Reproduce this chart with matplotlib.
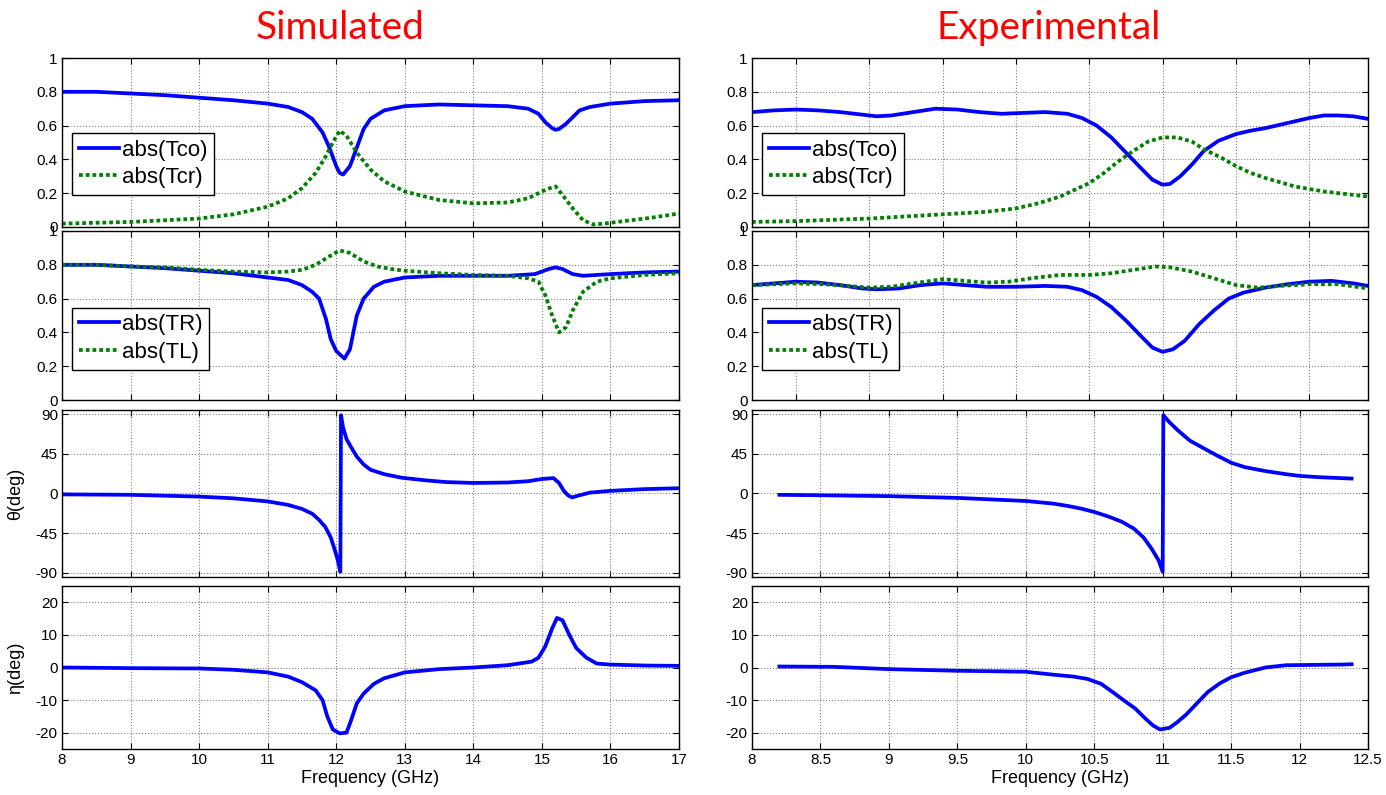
import numpy as np
import matplotlib
matplotlib.use('Agg')
import matplotlib.pyplot as plt
from matplotlib.ticker import FuncFormatter

plt.rcParams['font.family'] = ['Liberation Sans', 'DejaVu Sans']

# ---------------- Simulated data ----------------
sim_f_tco = [8.0, 8.5, 9.0, 9.5, 10.0, 10.5, 11.0, 11.3, 11.5, 11.65, 11.8, 11.9, 12.0, 12.05, 12.1,
             12.2, 12.3, 12.4, 12.5, 12.7, 13.0, 13.5, 14.0, 14.5, 14.8, 14.95, 15.05, 15.15, 15.2,
             15.25, 15.35, 15.45, 15.55, 15.7, 16.0, 16.5, 17.0]
sim_tco = [0.80, 0.80, 0.79, 0.78, 0.765, 0.75, 0.73, 0.71, 0.68, 0.64, 0.56, 0.47, 0.36, 0.32, 0.31,
           0.36, 0.47, 0.58, 0.64, 0.69, 0.715, 0.725, 0.72, 0.715, 0.70, 0.67, 0.62, 0.585, 0.575,
           0.58, 0.61, 0.65, 0.69, 0.71, 0.73, 0.745, 0.75]

sim_f_tcr = [8.0, 8.5, 9.0, 9.5, 10.0, 10.5, 11.0, 11.3, 11.5, 11.7, 11.85, 11.95, 12.05, 12.15, 12.3,
             12.5, 12.7, 13.0, 13.5, 14.0, 14.5, 14.8, 15.0, 15.15, 15.2, 15.3, 15.45, 15.6, 15.75,
             15.9, 16.2, 16.6, 17.0]
sim_tcr = [0.02, 0.025, 0.03, 0.04, 0.05, 0.075, 0.12, 0.17, 0.23, 0.32, 0.42, 0.50, 0.57, 0.54, 0.44,
           0.34, 0.27, 0.21, 0.16, 0.14, 0.145, 0.17, 0.21, 0.235, 0.24, 0.19, 0.11, 0.04, 0.015,
           0.02, 0.035, 0.055, 0.08]

sim_f_tr = [8.0, 8.5, 9.0, 9.5, 10.0, 10.5, 11.0, 11.3, 11.5, 11.65, 11.75, 11.85, 11.92, 12.0, 12.08,
            12.12, 12.2, 12.3, 12.4, 12.55, 12.7, 13.0, 13.5, 14.0, 14.5, 14.9, 15.1, 15.2, 15.3,
            15.45, 15.6, 16.0, 16.5, 17.0]
sim_tr = [0.80, 0.80, 0.79, 0.78, 0.765, 0.75, 0.725, 0.71, 0.68, 0.64, 0.60, 0.48, 0.36, 0.29, 0.26,
          0.245, 0.30, 0.50, 0.60, 0.67, 0.70, 0.725, 0.735, 0.735, 0.735, 0.745, 0.775, 0.785, 0.775,
          0.745, 0.735, 0.745, 0.755, 0.76]

sim_f_tl = [8.0, 8.5, 9.0, 9.5, 10.0, 10.5, 11.0, 11.3, 11.5, 11.7, 11.9, 12.05, 12.2, 12.4, 12.6,
            12.8, 13.0, 13.5, 14.0, 14.5, 14.8, 14.95, 15.05, 15.15, 15.25, 15.35, 15.45, 15.6,
            15.8, 16.0, 16.5, 17.0]
sim_tl = [0.80, 0.80, 0.79, 0.785, 0.77, 0.76, 0.755, 0.76, 0.77, 0.80, 0.85, 0.885, 0.87, 0.82, 0.79,
          0.775, 0.765, 0.75, 0.74, 0.735, 0.72, 0.70, 0.62, 0.50, 0.40, 0.43, 0.53, 0.64,
          0.70, 0.72, 0.74, 0.75]

sim_f_theta = [8.0, 9.0, 10.0, 10.5, 11.0, 11.3, 11.5, 11.65, 11.75, 11.84, 11.92, 11.97, 12.02,
               12.06, 12.07, 12.1, 12.15, 12.2, 12.3, 12.4, 12.5, 12.7, 12.95, 13.3, 13.6, 14.0,
               14.5, 14.8, 15.0, 15.17, 15.25, 15.32, 15.38, 15.44, 15.55, 15.7, 16.0, 16.5, 17.0]
sim_theta = [-1, -1.5, -3.5, -5.5, -9, -13, -17.5, -23, -30, -38, -50, -62, -75,
             -89, 89, 75, 62, 55, 42, 33, 27, 22, 18, 15, 13, 12,
             12.5, 14, 16.5, 17.5, 12, 3, -2, -4.5, -2, 1, 3, 5, 6]

sim_f_eta = [8.0, 9.0, 10.0, 10.5, 11.0, 11.3, 11.5, 11.7, 11.8, 11.87, 11.95, 12.05, 12.15, 12.22,
             12.3, 12.4, 12.55, 12.7, 13.0, 13.5, 14.0, 14.5, 14.85, 14.95, 15.05, 15.15, 15.22,
             15.3, 15.4, 15.5, 15.65, 15.8, 16.0, 16.5, 17.0]
sim_eta = [0, -0.2, -0.3, -0.7, -1.5, -2.8, -4.5, -7, -10, -15, -19, -20.2, -20.0, -16,
           -11, -8, -5, -3.3, -1.5, -0.5, 0, 0.7, 1.8, 3, 6.5, 12, 15.2,
           14.5, 10, 6, 3, 1.2, 0.9, 0.6, 0.5]

# ---------------- Experimental data ----------------
exp_f_tco = [8.2, 8.35, 8.5, 8.65, 8.8, 8.95, 9.05, 9.15, 9.3, 9.45, 9.6, 9.75, 9.9, 10.05, 10.2,
             10.35, 10.45, 10.55, 10.65, 10.75, 10.85, 10.93, 11.0, 11.05, 11.12, 11.2, 11.28,
             11.38, 11.5, 11.6, 11.7, 11.8, 11.9, 12.0, 12.1, 12.2, 12.3, 12.4]
exp_tco = [0.68, 0.69, 0.695, 0.69, 0.68, 0.665, 0.655, 0.66, 0.68, 0.70, 0.695, 0.68, 0.67, 0.675, 0.68,
           0.67, 0.645, 0.60, 0.53, 0.44, 0.35, 0.28, 0.25, 0.255, 0.30, 0.37, 0.45,
           0.51, 0.55, 0.57, 0.585, 0.605, 0.625, 0.645, 0.66, 0.66, 0.655, 0.64]

exp_f_tcr = [8.2, 8.5, 9.0, 9.5, 9.8, 10.0, 10.15, 10.3, 10.4, 10.5, 10.6, 10.7, 10.8, 10.9, 11.0,
             11.1, 11.2, 11.28, 11.4, 11.5, 11.6, 11.7, 11.8, 11.9, 12.0, 12.1, 12.25, 12.4]
exp_tcr = [0.03, 0.035, 0.05, 0.075, 0.09, 0.11, 0.14, 0.18, 0.22, 0.26, 0.32, 0.39, 0.45, 0.505, 0.53,
           0.53, 0.505, 0.46, 0.41, 0.36, 0.32, 0.29, 0.265, 0.24, 0.225, 0.21, 0.195, 0.18]

exp_f_tr = [8.2, 8.35, 8.5, 8.65, 8.8, 8.95, 9.05, 9.2, 9.35, 9.5, 9.65, 9.8, 10.0, 10.2, 10.35,
            10.45, 10.55, 10.65, 10.75, 10.85, 10.93, 11.0, 11.07, 11.15, 11.25, 11.35, 11.45,
            11.55, 11.7, 11.85, 12.0, 12.15, 12.3, 12.4]
exp_tr = [0.68, 0.69, 0.70, 0.695, 0.68, 0.66, 0.655, 0.66, 0.68, 0.69, 0.68, 0.67, 0.67, 0.675, 0.67,
          0.65, 0.61, 0.55, 0.47, 0.38, 0.31, 0.285, 0.30, 0.35, 0.45, 0.53, 0.60,
          0.635, 0.665, 0.685, 0.70, 0.705, 0.69, 0.675]

exp_f_tl = [8.2, 8.5, 8.7, 8.85, 9.0, 9.15, 9.3, 9.5, 9.65, 9.8, 9.95, 10.1, 10.3, 10.5, 10.65, 10.8,
            10.95, 11.05, 11.2, 11.35, 11.5, 11.65, 11.8, 12.0, 12.2, 12.4]
exp_tl = [0.68, 0.69, 0.685, 0.675, 0.665, 0.67, 0.69, 0.715, 0.705, 0.695, 0.70, 0.72, 0.74, 0.74, 0.75, 0.77,
          0.79, 0.785, 0.76, 0.72, 0.68, 0.665, 0.675, 0.685, 0.685, 0.66]

exp_f_theta = [8.2, 8.5, 9.0, 9.5, 10.0, 10.2, 10.3, 10.4, 10.5, 10.6, 10.7, 10.79, 10.86, 10.92,
               10.97, 11.0, 11.005, 11.05, 11.11, 11.2, 11.34, 11.4, 11.5, 11.6, 11.75, 11.9,
               12.0, 12.15, 12.38]
exp_theta = [-1.5, -2, -3, -5, -8.5, -11.5, -14, -17, -21, -26, -32, -40, -50, -63,
             -76, -89, 89, 81, 72, 60, 48, 43, 35, 30, 25.5, 22,
             20, 18.5, 17]

exp_f_eta = [8.2, 8.6, 9.0, 9.5, 10.0, 10.2, 10.35, 10.45, 10.55, 10.65, 10.72, 10.8, 10.87, 10.93,
             10.98, 11.05, 11.1, 11.17, 11.25, 11.33, 11.42, 11.5, 11.6, 11.75, 11.9, 12.1, 12.3, 12.38]
exp_eta = [0.3, 0.2, -0.5, -1, -1.3, -2.2, -2.8, -3.5, -5, -8, -10.2, -12.6, -15.5, -17.8,
           -19, -18.5, -17, -14.5, -11, -7.5, -4.8, -3, -1.6, 0, 0.7, 0.8, 0.9, 1.0]

BLUE = '#0000FF'
GREEN = '#007F00'

fig = plt.figure(figsize=(13.86, 7.95), dpi=100)

W, H = 1386.0, 795.0
col_x = [62, 752]
col_w = [617, 616]
rows = [(58, 227), (231, 400), (410, 577), (586, 749)]


def make_ax(c, r):
    top, bot = rows[r]
    return fig.add_axes([col_x[c] / W, 1 - bot / H, col_w[c] / W, (bot - top) / H])


fmt = FuncFormatter(lambda v, p: '%g' % v)


def style(ax):
    ax.grid(True, color='0.5', linestyle=':', linewidth=0.8)
    ax.tick_params(direction='in', top=True, right=True, length=4, labelsize=11, pad=3)
    for s in ax.spines.values():
        s.set_linewidth(1.0)
    ax.yaxis.set_major_formatter(fmt)
    ax.xaxis.set_major_formatter(fmt)


def legend(ax, y0):
    lg = ax.legend(loc='lower left', bbox_to_anchor=(0.016, y0), fontsize=16, fancybox=False,
                   framealpha=1, edgecolor='black', borderpad=0.3, labelspacing=0.3,
                   handlelength=1.8, handletextpad=0.15, borderaxespad=0)
    lg.get_frame().set_linewidth(1.0)


LW = 2.7
DOT = (0, (1, 0.8))

for c, (xlim_top, xlim_bot, xt_top, xt_bot) in enumerate([
        ((8, 17), (8, 17), np.arange(8, 17.01, 1), np.arange(8, 17.01, 1)),
        ((8.2, 12.4), (8, 12.5), np.arange(8.5, 12.01, 0.5), np.arange(8, 12.51, 0.5))]):
    if c == 0:
        d = dict(f1=sim_f_tco, a=sim_tco, f2=sim_f_tcr, b=sim_tcr,
                 f3=sim_f_tr, r=sim_tr, f4=sim_f_tl, l=sim_tl,
                 f5=sim_f_theta, t=sim_theta, f6=sim_f_eta, e=sim_eta)
    else:
        d = dict(f1=exp_f_tco, a=exp_tco, f2=exp_f_tcr, b=exp_tcr,
                 f3=exp_f_tr, r=exp_tr, f4=exp_f_tl, l=exp_tl,
                 f5=exp_f_theta, t=exp_theta, f6=exp_f_eta, e=exp_eta)

    ax1 = make_ax(c, 0)
    ax1.plot(d['f1'], d['a'], color=BLUE, lw=LW, label='abs(Tco)')
    ax1.plot(d['f2'], d['b'], color=GREEN, lw=LW, ls=DOT, label='abs(Tcr)')
    ax1.set_ylim(0, 1)
    ax1.set_yticks([0, 0.2, 0.4, 0.6, 0.8, 1])
    ax1.set_xlim(*xlim_top)
    ax1.set_xticks(xt_top)
    style(ax1)
    ax1.set_xticklabels([])
    legend(ax1, 0.19)

    ax2 = make_ax(c, 1)
    ax2.plot(d['f3'], d['r'], color=BLUE, lw=LW, label='abs(TR)')
    ax2.plot(d['f4'], d['l'], color=GREEN, lw=LW, ls=DOT, label='abs(TL)')
    ax2.set_ylim(0, 1)
    ax2.set_yticks([0, 0.2, 0.4, 0.6, 0.8, 1])
    ax2.set_xlim(*xlim_top)
    ax2.set_xticks(xt_top)
    style(ax2)
    ax2.set_xticklabels([])
    legend(ax2, 0.18)

    ax3 = make_ax(c, 2)
    ax3.plot(d['f5'], d['t'], color=BLUE, lw=LW)
    ax3.set_ylim(-95, 95)
    ax3.set_yticks([-90, -45, 0, 45, 90])
    ax3.set_xlim(*xlim_bot)
    ax3.set_xticks(xt_bot)
    style(ax3)
    ax3.set_xticklabels([])

    ax4 = make_ax(c, 3)
    ax4.plot(d['f6'], d['e'], color=BLUE, lw=LW)
    ax4.set_ylim(-25, 25)
    ax4.set_yticks([-20, -10, 0, 10, 20])
    ax4.set_xlim(*xlim_bot)
    ax4.set_xticks(xt_bot)
    style(ax4)
    ax4.set_xlabel('Frequency (GHz)', fontsize=13, labelpad=2)

    if c == 0:
        ax3.set_ylabel('θ(deg)', fontsize=13)
        ax3.yaxis.set_label_coords(-0.062, 0.5)
        ax4.set_ylabel('η(deg)', fontsize=13)
        ax4.yaxis.set_label_coords(-0.062, 0.5)

fig.text(340 / W, 1 - 28 / H, 'Simulated', color='red', fontsize=28, family='Lato',
         ha='center', va='center')
fig.text(1049 / W, 1 - 28 / H, 'Experimental', color='red', fontsize=28, family='Lato',
         ha='center', va='center')

fig.savefig('out.png', dpi=100)
